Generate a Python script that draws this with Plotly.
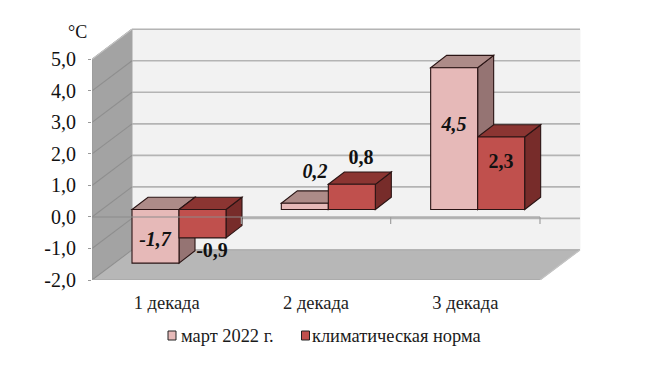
import plotly.graph_objects as go

categories = ["1 декада", "2 декада", "3 декада"]
march_2022 = [-1.7, 0.2, 4.5]
climate_norm = [-0.9, 0.8, 2.3]
y_tick_values = [-2, -1, 0, 1, 2, 3, 4, 5]
y_tick_labels = ["-2,0", "-1,0", "0,0", "1,0", "2,0", "3,0", "4,0", "5,0"]
series_names = ["март 2022 г.", "климатическая норма"]
unit = "°C"

W, H = 649, 366
PX_X = 149.33
PX_Y = 31.43
L, R, T, B = 92, 581, 25, 280
X0, Y0 = 166.7, 216.4

def dx(p):
    return p / PX_X

def dy(p):
    return p / PX_Y

def fx(px):
    return (px - X0) / PX_X

def fy(py):
    return (Y0 - py) / PX_Y

def paper_x(px):
    return (px - L) / (R - L)

def paper_y(py):
    return (B - py) / (B - T)

x_range = [fx(L), fx(R)]
y_range = [-2, fy(T)]
wall_dx, wall_dy = dx(40), dy(30)
bar_w = dx(47)
shift_x, base_y = dx(12.3), dy(7.4)
depth_x, depth_y = dx(16), dy(12.3)
xmin = fx(L)
xfront = xmin + 3


def poly(points, fill, line=None, width=1.0, layer="below"):
    path = "M " + " L ".join(f"{x:.5f},{y:.5f}" for x, y in points) + " Z"
    return dict(type="path", path=path, xref="x", yref="y", fillcolor=fill, layer=layer,
                line=dict(color=line or fill, width=width))


def seg(x1, y1, x2, y2, color, width=1.5, layer="below", opacity=1):
    return dict(type="line", x0=x1, y0=y1, x1=x2, y1=y2, xref="x", yref="y", layer=layer,
                opacity=opacity, line=dict(color=color, width=width))


shapes = [
    poly([(xmin + wall_dx, -2 + wall_dy), (xmin + wall_dx, 5 + wall_dy),
          (xfront + wall_dx, 5 + wall_dy), (xfront + wall_dx, -2 + wall_dy)], "#F2F2F2"),
    poly([(xmin, -2), (xmin, 5), (xmin + wall_dx, 5 + wall_dy), (xmin + wall_dx, -2 + wall_dy)], "#A3A3A3"),
    poly([(xmin, -2), (xmin + wall_dx, -2 + wall_dy), (xfront + wall_dx, -2 + wall_dy), (xfront, -2)], "#B7B7B7"),
]
for v in y_tick_values:
    if v > -2:
        shapes.append(seg(xmin + wall_dx, v + wall_dy, xfront + wall_dx, v + wall_dy, "#B4B4B4", 1.6))
    shapes.append(seg(xmin, v, xmin + wall_dx, v + wall_dy, "#8E8E8E", 1.1))
shapes.append(seg(xmin, -2, xfront, -2, "#A8A8A8", 1.5))
shapes.append(seg(xmin + wall_dx, -2 + wall_dy, xfront + wall_dx, -2 + wall_dy, "#ABABAB", 1.2))
shapes.append(seg(xfront, -2, xfront + wall_dx, -2 + wall_dy, "#C4C4C4", 1.2))
shapes.append(seg(xmin, -2, xmin, 5, "#999999", 1.2))
shapes.append(seg(xmin, 5, xmin + wall_dx, 5 + wall_dy, "#C4C4C4", 1.2))

edge = "#2A1414"
styles = [
    dict(front="#E6B9B8", top="#AD8B88", side="#957473"),
    dict(front="#C0504D", top="#8B3532", side="#772C2A"),
]
offsets = [-bar_w, 0.0]
all_values = [march_2022, climate_norm]

for values, st, off in zip(all_values, styles, offsets):
    for i, v in enumerate(values):
        xl = i + shift_x + off
        xr = xl + bar_w
        b = base_y
        t = b + max(v, 0)
        low = b + min(v, 0)
        shapes.append(poly([(xr, low), (xr, t), (xr + depth_x, t + depth_y), (xr + depth_x, low + depth_y)],
                           st["side"], edge, 1.1))
        shapes.append(poly([(xl, t), (xr, t), (xr + depth_x, t + depth_y), (xl + depth_x, t + depth_y)],
                           st["top"], edge, 1.1))

# axis line at zero, crossing over the bars
shapes.append(seg(xmin, 0, xfront, 0, "#8C8C8C", 1.5, "above", 0.65))
for k in range(1, 4):
    shapes.append(seg(xmin + k, 0, xmin + k, dy(-7), "#A0A0A0", 1.2, "above"))

fig = go.Figure()
for name, values, st, off in zip(series_names, all_values, styles, offsets):
    fig.add_trace(go.Bar(
        x=[i + shift_x + off + bar_w / 2 for i in range(len(categories))],
        y=values, base=[base_y] * len(values), width=bar_w, name=name,
        marker=dict(color=st["front"], line=dict(color=edge, width=1.1)),
        showlegend=False, hoverinfo="y",
    ))

SERIF = "Liberation Serif"


def fmt(v):
    return f"{v:.1f}".replace(".", ",")


label_px = [
    [(155, 240), (315, 173), (454, 126)],
    [(212, 251), (361, 159), (501, 163)],
]
label_styles = ["italic", "normal"]
for values, pts, style in zip(all_values, label_px, label_styles):
    fig.add_trace(go.Scatter(
        x=[fx(p[0]) for p in pts], y=[fy(p[1]) for p in pts],
        mode="text", text=[fmt(v) for v in values], textposition="middle center",
        textfont=dict(family=SERIF, size=20, color="#111111", weight="bold", style=style),
        showlegend=False, hoverinfo="skip", cliponaxis=False,
    ))

# legend: swatches and names placed in paper coordinates
legend_swatch_x = [168, 301.5]
legend_text_x = [181, 312]
legend_y = 335.5
for name, st, sx, tx in zip(series_names, styles, legend_swatch_x, legend_text_x):
    shapes.append(dict(type="rect", xref="paper", yref="paper", layer="above",
                       x0=paper_x(sx), x1=paper_x(sx + 8), y0=paper_y(legend_y - 4.5), y1=paper_y(legend_y + 4.5),
                       fillcolor=st["front"], line=dict(color="#222222", width=1)))
    fig.add_annotation(x=paper_x(tx), y=paper_y(legend_y), xref="paper", yref="paper", text=name,
                       xanchor="left", yanchor="middle", showarrow=False, xshift=-1,
                       font=dict(family=SERIF, size=18.4, color="#1a1a1a"), borderpad=0)

fig.add_annotation(x=paper_x(77), y=paper_y(32), xref="paper", yref="paper", text=unit, showarrow=False,
                   xanchor="center", yanchor="middle",
                   font=dict(family=SERIF, size=18, color="#111111"))

fig.update_layout(
    width=W, height=H, autosize=False, barmode="overlay", showlegend=False,
    margin=dict(l=L, r=W - R, t=T, b=H - B, pad=0),
    paper_bgcolor="white", plot_bgcolor="white",
    shapes=shapes,
    xaxis=dict(range=x_range, tickmode="array", tickvals=list(range(len(categories))), ticktext=categories,
               ticks="", showgrid=False, zeroline=False, showline=False, automargin=False,
               tickfont=dict(family=SERIF, size=18.5, color="#222222"), ticklabelstandoff=9),
    yaxis=dict(range=y_range, tickmode="array", tickvals=y_tick_values, ticktext=y_tick_labels,
               ticks="outside", ticklen=3, tickcolor="#999999", tickwidth=1, showgrid=False, zeroline=False,
               showline=False, automargin=False,
               tickfont=dict(family=SERIF, size=20, color="#111111"), ticklabelstandoff=8),
)

fig.write_html("out.html", config={"displayModeBar": False},
               post_script="document.body.style.margin='0';document.body.style.overflow='hidden';")
